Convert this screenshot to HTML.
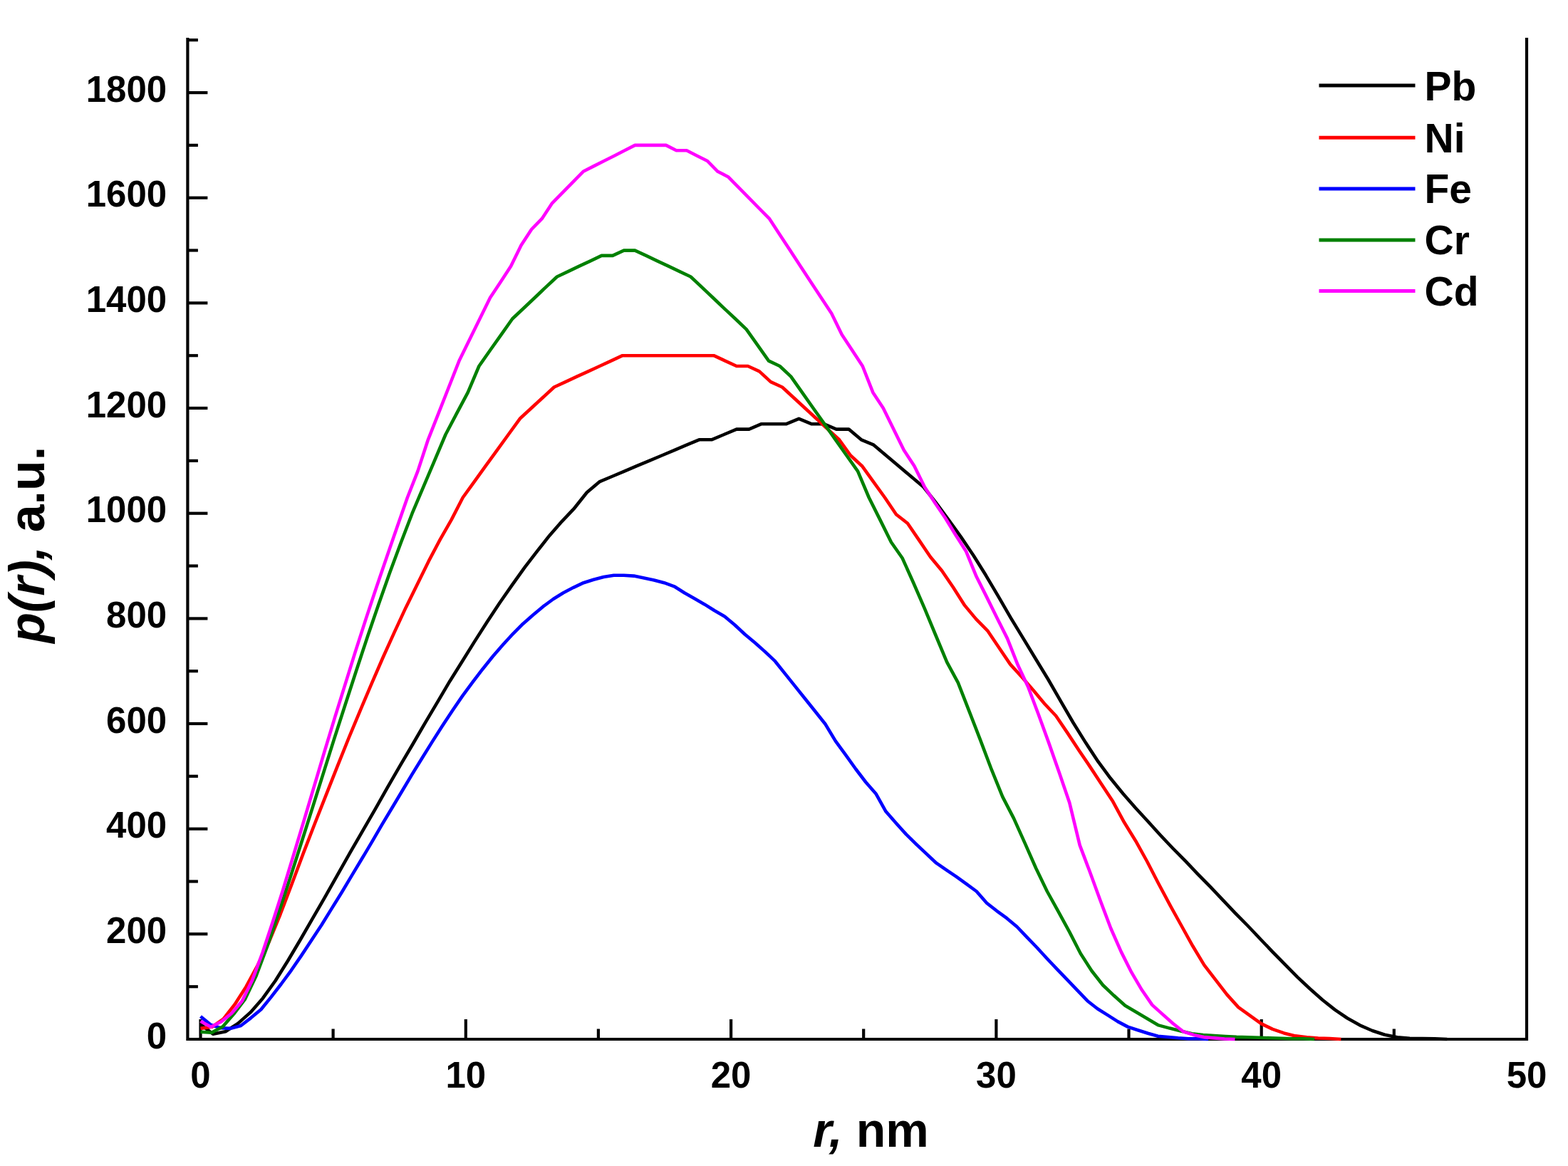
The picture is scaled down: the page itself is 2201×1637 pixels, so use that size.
<!DOCTYPE html>
<html lang="en">
<head>
<meta charset="utf-8">
<title>p(r) distance distribution functions</title>
<style>
html,body{margin:0;padding:0;background:#fff;}
body{width:2201px;height:1637px;overflow:hidden;}
svg{display:block;}
text{font-family:"Liberation Sans",Arial,Helvetica,sans-serif;font-weight:bold;fill:#000;}
.tick{font-size:51px;}
.leg{font-size:57px;}
.title{font-size:70px;}
.curve{fill:none;stroke-width:4.6;stroke-linejoin:round;stroke-linecap:butt;}
.ax{stroke:#000;fill:none;}
</style>
</head>
<body>
<svg xmlns="http://www.w3.org/2000/svg" width="2201" height="1637" viewBox="0 0 2201 1637">
<rect x="0" y="0" width="2201" height="1637" fill="#ffffff"/>
<g class="ax" stroke-width="4.2">
<line x1="263.4" y1="1385.2" x2="277.9" y2="1385.2"/>
<line x1="263.4" y1="1311.3" x2="291.4" y2="1311.3"/>
<line x1="263.4" y1="1237.5" x2="277.9" y2="1237.5"/>
<line x1="263.4" y1="1163.7" x2="291.4" y2="1163.7"/>
<line x1="263.4" y1="1089.8" x2="277.9" y2="1089.8"/>
<line x1="263.4" y1="1016.0" x2="291.4" y2="1016.0"/>
<line x1="263.4" y1="942.2" x2="277.9" y2="942.2"/>
<line x1="263.4" y1="868.4" x2="291.4" y2="868.4"/>
<line x1="263.4" y1="794.5" x2="277.9" y2="794.5"/>
<line x1="263.4" y1="720.7" x2="291.4" y2="720.7"/>
<line x1="263.4" y1="646.9" x2="277.9" y2="646.9"/>
<line x1="263.4" y1="573.0" x2="291.4" y2="573.0"/>
<line x1="263.4" y1="499.2" x2="277.9" y2="499.2"/>
<line x1="263.4" y1="425.4" x2="291.4" y2="425.4"/>
<line x1="263.4" y1="351.5" x2="277.9" y2="351.5"/>
<line x1="263.4" y1="277.7" x2="291.4" y2="277.7"/>
<line x1="263.4" y1="203.9" x2="277.9" y2="203.9"/>
<line x1="263.4" y1="130.1" x2="291.4" y2="130.1"/>
<line x1="263.4" y1="56.2" x2="277.9" y2="56.2"/>
<line x1="281.5" y1="1459" x2="281.5" y2="1431"/>
<line x1="467.6" y1="1459" x2="467.6" y2="1444.5"/>
<line x1="653.8" y1="1459" x2="653.8" y2="1431"/>
<line x1="839.9" y1="1459" x2="839.9" y2="1444.5"/>
<line x1="1026.1" y1="1459" x2="1026.1" y2="1431"/>
<line x1="1212.2" y1="1459" x2="1212.2" y2="1444.5"/>
<line x1="1398.4" y1="1459" x2="1398.4" y2="1431"/>
<line x1="1584.5" y1="1459" x2="1584.5" y2="1444.5"/>
<line x1="1770.7" y1="1459" x2="1770.7" y2="1431"/>
<line x1="1956.8" y1="1459" x2="1956.8" y2="1444.5"/>
</g>
<path class="ax" stroke-width="4.2" stroke-linejoin="miter" d="M263.4,53 L263.4,1459 L2143,1459 L2143,53"/>
<path class="curve" stroke="#000000" d="M281.5,1438.1 L299.0,1451.7 L316.5,1448.2 L334.0,1436.9 L351.5,1421.4 L369.0,1401.4 L386.5,1377.0 L404.0,1349.0 L421.5,1319.5 L439.0,1289.2 L456.5,1258.9 L474.0,1227.9 L491.5,1196.9 L509.0,1166.6 L526.5,1136.4 L544.0,1105.3 L561.5,1075.1 L579.0,1045.5 L596.5,1015.3 L614.0,985.8 L631.5,956.2 L649.0,928.2 L666.5,900.1 L684.0,872.8 L701.5,846.2 L719.0,821.1 L736.5,796.7 L754.0,773.9 L771.5,751.7 L788.9,731.8 L806.4,713.3 L823.9,691.2 L841.4,676.4 L858.9,669.0 L876.4,661.6 L893.9,654.2 L911.4,646.9 L928.9,639.5 L946.4,632.1 L963.9,624.7 L981.4,617.3 L998.9,617.3 L1016.4,610.0 L1033.9,602.6 L1051.4,602.6 L1068.9,595.2 L1086.4,595.2 L1103.9,595.2 L1121.4,587.8 L1138.9,595.2 L1156.4,595.2 L1173.9,602.6 L1191.4,602.6 L1208.9,617.3 L1226.4,624.7 L1243.9,639.5 L1261.4,654.2 L1278.9,669.0 L1296.4,683.8 L1313.9,705.9 L1331.4,729.6 L1348.9,753.9 L1366.4,779.8 L1383.9,807.8 L1401.4,837.4 L1418.9,867.6 L1436.4,896.4 L1453.9,925.2 L1471.4,954.0 L1488.9,984.3 L1506.4,1014.5 L1523.9,1042.6 L1541.4,1069.2 L1558.9,1092.8 L1576.4,1114.2 L1593.9,1134.2 L1611.4,1153.3 L1628.8,1172.5 L1646.3,1191.0 L1663.8,1208.7 L1681.3,1227.2 L1698.8,1244.9 L1716.3,1263.3 L1733.8,1281.8 L1751.3,1299.5 L1768.8,1318.0 L1786.3,1336.4 L1803.8,1354.2 L1821.3,1371.9 L1838.8,1388.3 L1856.3,1403.7 L1873.8,1417.6 L1891.3,1429.5 L1908.8,1439.3 L1926.3,1447.0 L1943.8,1452.7 L1961.3,1456.3 L1978.8,1457.8 L1996.3,1458.0 L2013.8,1458.4 L2031.3,1459.0"/>
<path class="curve" stroke="#ff0000" d="M281.5,1443.9 L297.5,1441.8 L313.5,1430.7 L329.5,1410.2 L345.5,1385.2 L361.5,1355.6 L377.6,1322.4 L393.6,1283.3 L409.6,1241.2 L425.6,1198.4 L441.6,1157.0 L457.6,1116.4 L473.6,1075.8 L489.6,1036.0 L505.6,997.6 L521.6,959.9 L537.6,923.0 L553.6,887.6 L569.7,852.9 L585.7,820.4 L601.7,787.9 L617.7,757.6 L633.7,729.6 L649.7,698.5 L665.7,676.4 L681.7,654.2 L697.7,632.1 L713.7,610.0 L729.8,587.8 L745.8,573.0 L761.8,558.3 L777.8,543.5 L793.8,536.1 L809.8,528.7 L825.8,521.4 L841.8,514.0 L857.8,506.6 L873.8,499.2 L889.8,499.2 L905.9,499.2 L921.9,499.2 L937.9,499.2 L953.9,499.2 L969.9,499.2 L985.9,499.2 L1001.9,499.2 L1017.9,506.6 L1033.9,514.0 L1049.9,514.0 L1065.9,521.4 L1081.9,536.1 L1098.0,543.5 L1114.0,558.3 L1130.0,573.0 L1146.0,587.8 L1162.0,602.6 L1178.0,617.3 L1194.0,639.5 L1210.0,654.2 L1226.0,676.4 L1242.0,698.5 L1258.0,722.2 L1274.0,734.7 L1290.1,758.4 L1306.1,782.0 L1322.1,801.2 L1338.1,824.8 L1354.1,849.9 L1370.1,869.1 L1386.1,885.3 L1402.1,909.0 L1418.1,932.6 L1434.1,950.3 L1450.2,968.8 L1466.2,988.0 L1482.2,1005.0 L1498.2,1028.6 L1514.2,1052.9 L1530.2,1076.6 L1546.2,1100.9 L1562.2,1125.3 L1578.2,1154.8 L1594.2,1180.7 L1610.2,1209.5 L1626.2,1240.5 L1642.3,1270.7 L1658.3,1299.5 L1674.3,1328.3 L1690.3,1354.9 L1706.3,1375.6 L1722.3,1396.4 L1738.3,1414.1 L1754.3,1425.6 L1770.3,1437.1 L1786.3,1444.9 L1802.3,1450.4 L1818.3,1454.4 L1834.4,1456.4 L1850.4,1457.5 L1866.4,1458.0 L1882.4,1459.0"/>
<path class="curve" stroke="#0000ff" d="M281.5,1427.0 L295.6,1438.6 L309.8,1443.2 L323.9,1443.9 L338.1,1440.0 L352.2,1429.1 L366.4,1417.2 L380.5,1399.9 L394.7,1381.5 L408.8,1362.3 L423.0,1341.6 L437.1,1320.2 L451.3,1298.8 L465.4,1275.9 L479.6,1253.0 L493.7,1229.4 L507.9,1205.8 L522.0,1182.1 L536.1,1157.8 L550.3,1134.2 L564.5,1110.5 L578.6,1086.9 L592.7,1064.0 L606.9,1041.1 L621.0,1019.0 L635.2,997.6 L649.3,976.9 L663.5,957.7 L677.6,939.2 L691.8,921.5 L705.9,905.3 L720.1,889.8 L734.2,875.7 L748.4,863.2 L762.5,851.4 L776.7,841.0 L790.8,832.2 L805.0,824.8 L819.1,818.2 L833.2,813.7 L847.4,810.0 L861.5,807.8 L875.7,807.8 L889.8,808.6 L904.0,811.5 L918.1,814.5 L932.3,818.2 L946.4,823.3 L960.6,832.2 L974.7,840.3 L988.9,848.4 L1003.0,857.3 L1017.2,865.4 L1031.3,877.2 L1045.5,890.5 L1059.6,902.3 L1073.8,914.9 L1087.9,928.2 L1102.0,945.9 L1116.2,963.6 L1130.3,981.3 L1144.5,999.0 L1158.6,1016.8 L1172.8,1040.4 L1186.9,1059.6 L1201.1,1079.5 L1215.2,1098.0 L1229.4,1114.2 L1243.5,1139.3 L1257.7,1155.6 L1271.8,1171.1 L1286.0,1185.1 L1300.1,1198.4 L1314.3,1211.7 L1328.4,1221.3 L1342.5,1230.9 L1356.7,1241.2 L1370.8,1251.5 L1385.0,1267.8 L1399.1,1278.8 L1413.3,1289.2 L1427.4,1301.0 L1441.6,1315.8 L1455.7,1330.5 L1469.9,1346.0 L1484.0,1360.8 L1498.2,1375.6 L1512.3,1390.3 L1526.5,1405.2 L1540.6,1416.2 L1554.8,1425.1 L1568.9,1434.1 L1583.1,1441.6 L1597.2,1446.2 L1611.4,1450.8 L1625.5,1454.7 L1639.7,1456.0 L1653.8,1457.3 L1668.0,1458.2 L1682.1,1458.2 L1696.2,1459.0"/>
<path class="curve" stroke="#008000" d="M281.5,1448.7 L297.1,1449.7 L312.8,1441.3 L328.4,1423.3 L344.1,1402.5 L359.7,1369.7 L375.3,1328.3 L391.0,1281.8 L406.6,1234.6 L422.2,1185.8 L437.9,1136.4 L453.5,1086.9 L469.1,1037.4 L484.8,988.7 L500.4,940.7 L516.0,893.5 L531.7,847.7 L547.3,803.4 L563.0,761.3 L578.6,720.7 L594.2,683.8 L609.9,646.9 L625.5,610.0 L641.1,580.4 L656.8,550.9 L672.4,514.0 L688.0,491.8 L703.7,469.7 L719.3,447.5 L735.0,432.8 L750.6,418.0 L766.2,403.2 L781.9,388.5 L797.5,381.1 L813.1,373.7 L828.8,366.3 L844.4,358.9 L860.0,358.9 L875.7,351.6 L891.3,351.6 L907.0,358.9 L922.6,366.3 L938.2,373.7 L953.9,381.1 L969.5,388.5 L985.1,403.2 L1000.8,418.0 L1016.4,432.8 L1032.1,447.5 L1047.7,462.3 L1063.3,484.4 L1079.0,506.6 L1094.6,514.0 L1110.2,528.7 L1125.9,550.9 L1141.5,573.0 L1157.2,595.2 L1172.8,617.3 L1188.4,639.5 L1204.1,661.6 L1219.7,698.5 L1235.3,729.6 L1251.0,761.3 L1266.6,783.5 L1282.2,818.2 L1297.9,854.3 L1313.5,892.0 L1329.2,929.6 L1344.8,958.4 L1360.4,998.3 L1376.1,1038.9 L1391.7,1080.2 L1407.3,1118.6 L1423.0,1148.9 L1438.6,1183.6 L1454.2,1219.0 L1469.9,1251.5 L1485.5,1279.6 L1501.2,1308.4 L1516.8,1338.7 L1532.4,1363.0 L1548.1,1383.0 L1563.7,1397.8 L1579.3,1411.8 L1595.0,1421.0 L1610.6,1430.2 L1626.2,1439.4 L1641.9,1443.6 L1657.5,1447.4 L1673.2,1451.2 L1688.8,1453.0 L1704.4,1454.0 L1720.1,1455.1 L1735.7,1455.9 L1751.3,1456.3 L1767.0,1456.8 L1782.6,1457.3 L1798.2,1457.7 L1813.9,1458.2 L1829.5,1458.2 L1845.2,1459.0"/>
<path class="curve" stroke="#ff00ff" d="M281.5,1433.8 L296.0,1441.7 L310.5,1434.5 L325.1,1422.8 L339.6,1405.7 L354.1,1376.3 L368.6,1337.2 L383.1,1293.6 L397.7,1247.8 L412.2,1199.9 L426.7,1151.9 L441.2,1103.1 L455.7,1054.4 L470.3,1006.4 L484.8,959.9 L499.3,913.4 L513.8,868.4 L528.3,824.8 L542.9,782.0 L557.4,739.9 L571.9,698.5 L586.4,661.6 L600.9,617.3 L615.5,580.4 L630.0,543.5 L644.5,506.6 L659.0,477.1 L673.5,447.5 L688.0,418.0 L702.6,395.9 L717.1,373.7 L731.6,344.2 L746.1,322.0 L760.6,307.2 L775.2,285.1 L789.7,270.3 L804.2,255.6 L818.7,240.8 L833.2,233.4 L847.8,226.0 L862.3,218.7 L876.8,211.3 L891.3,203.9 L905.9,203.9 L920.4,203.9 L934.9,203.9 L949.4,211.3 L963.9,211.3 L978.5,218.7 L993.0,226.0 L1007.5,240.8 L1022.0,248.2 L1036.5,262.9 L1051.0,277.7 L1065.6,292.5 L1080.1,307.2 L1094.6,329.4 L1109.1,351.6 L1123.6,373.7 L1138.2,395.9 L1152.7,418.0 L1167.2,440.1 L1181.7,469.7 L1196.2,491.8 L1210.8,514.0 L1225.3,550.9 L1239.8,573.0 L1254.3,602.6 L1268.8,632.1 L1283.4,654.2 L1297.9,683.8 L1312.4,705.9 L1326.9,727.3 L1341.4,751.0 L1356.0,773.9 L1370.5,809.3 L1385.0,838.1 L1399.5,867.6 L1414.0,896.4 L1428.6,933.3 L1443.1,964.3 L1457.6,1002.7 L1472.1,1042.6 L1486.6,1083.9 L1501.2,1126.8 L1515.7,1186.6 L1530.2,1225.0 L1544.7,1264.8 L1559.2,1303.2 L1573.8,1336.4 L1588.3,1365.2 L1602.8,1389.8 L1617.3,1410.9 L1631.8,1423.9 L1646.3,1436.8 L1660.9,1448.2 L1675.4,1452.9 L1689.9,1456.1 L1704.4,1457.4 L1719.0,1458.5 L1733.5,1459.0"/>
<g class="tick" text-anchor="end">
<text x="234.2" y="1471.7">0</text>
<text x="234.2" y="1324.0">200</text>
<text x="234.2" y="1176.4">400</text>
<text x="234.2" y="1028.7">600</text>
<text x="234.2" y="881.1">800</text>
<text x="234.2" y="733.4">1000</text>
<text x="234.2" y="585.7">1200</text>
<text x="234.2" y="438.1">1400</text>
<text x="234.2" y="290.4">1600</text>
<text x="234.2" y="142.8">1800</text>
</g>
<g class="tick" text-anchor="middle">
<text x="281.5" y="1527.3">0</text>
<text x="653.8" y="1527.3">10</text>
<text x="1026.1" y="1527.3">20</text>
<text x="1398.4" y="1527.3">30</text>
<text x="1770.7" y="1527.3">40</text>
<text x="2143.0" y="1527.3">50</text>
</g>
<g class="leg">
<line x1="1851.5" y1="120.1" x2="1986.5" y2="120.1" stroke="#000000" stroke-width="5"/>
<text x="1999.5" y="140.7">Pb</text>
<line x1="1851.5" y1="193.3" x2="1986.5" y2="193.3" stroke="#ff0000" stroke-width="5"/>
<text x="1999.5" y="213.5">Ni</text>
<line x1="1851.5" y1="264.9" x2="1986.5" y2="264.9" stroke="#0000ff" stroke-width="5"/>
<text x="1999.5" y="285.0">Fe</text>
<line x1="1851.5" y1="337.1" x2="1986.5" y2="337.1" stroke="#008000" stroke-width="5"/>
<text x="1999.5" y="356.7">Cr</text>
<line x1="1851.5" y1="408.5" x2="1986.5" y2="408.5" stroke="#ff00ff" stroke-width="5"/>
<text x="1999.5" y="428.8">Cd</text>
</g>
<text class="title" style="font-size:68px" text-anchor="middle" x="1222.4" y="1609.7"><tspan font-style="italic">r,</tspan> nm</text>
<text class="title" text-anchor="middle" transform="translate(62.3,764.8) rotate(-90)"><tspan font-style="italic">p(r),</tspan> a.u.</text>
</svg>
</body>
</html>
